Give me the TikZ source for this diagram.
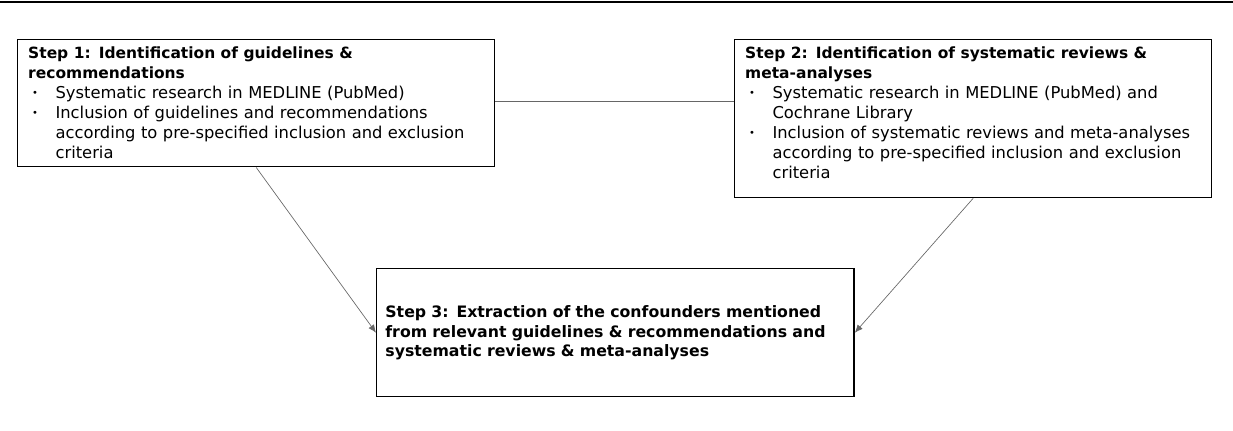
\documentclass[tikz,border=0pt]{standalone}
\usepackage{fontspec}
\setmainfont{DejaVu Sans}
\usetikzlibrary{calc}
\usetikzlibrary{arrows.meta}
\newcommand{\steptitle}[1]{\mbox{\fontsize{11.6pt}{15pt}\selectfont\bfseries #1}}
\newcommand{\bul}[1]{\makebox[20.5pt][l]{\hspace{3pt}\raisebox{1.6pt}{\fontsize{7.5pt}{7.5pt}\selectfont\textbullet}}\mbox{#1}}
\newcommand{\cont}[1]{\hspace*{20.5pt}\mbox{#1}}
\tikzset{
  stepbox/.style={draw, line width=1.1pt, anchor=north west, align=left, inner xsep=7.5pt, inner ysep=5.5pt,
    font=\fontsize{12.25pt}{15pt}\selectfont},
  link/.style={draw=black!60, line width=0.5pt},
  arr/.style={link, -{Latex[length=6pt,width=5pt]}}
}
\begin{document}
\begin{tikzpicture}[x=0.75pt,y=-0.75pt]
        \useasboundingbox (0,0) rectangle (1233,431);
        \draw[line width=1.2pt] (0,2) -- (1233,2);

        % boxes
        \node[stepbox, minimum width=357.75pt, minimum height=95.25pt, text width=342pt] (s1) at (17,39)
          {\steptitle{Step 1: Identification of guidelines \&}\\
           \steptitle{recommendations}\\
           \bul{Systematic research in MEDLINE (PubMed)}\\
           \bul{Inclusion of guidelines and recommendations}\\
           \cont{according to pre-specified inclusion and exclusion}\\
           \cont{criteria}};
        \node[stepbox, minimum width=357.75pt, text width=342pt] (s2) at (734,39)
          {\steptitle{Step 2: Identification of systematic reviews \&}\\
           \steptitle{meta-analyses}\\
           \bul{Systematic research in MEDLINE (PubMed) and}\\
           \cont{Cochrane Library}\\
           \bul{Inclusion of systematic reviews and meta-analyses}\\
           \cont{according to pre-specified inclusion and exclusion}\\
           \cont{criteria\rule[-8.5pt]{0pt}{8.5pt}}};
        \node[stepbox, minimum width=357.75pt, minimum height=96pt, text width=345pt, inner xsep=6.5pt,
          font=\fontsize{11.8pt}{14.6pt}\selectfont\bfseries] (s3) at (376,268)
          {Step 3: Extraction of the confounders mentioned\\
           from relevant guidelines \& recommendations and\\
           systematic reviews \& meta-analyses};

        % connectors
        \draw[link] ($(s1.north east)+(0,62)$) -- ($(s2.north west)+(0,62)$);
        \draw[arr] (s1.south) -- (s3.west);
        \draw[arr] (s2.south) -- (s3.east);
\end{tikzpicture}
\end{document}
